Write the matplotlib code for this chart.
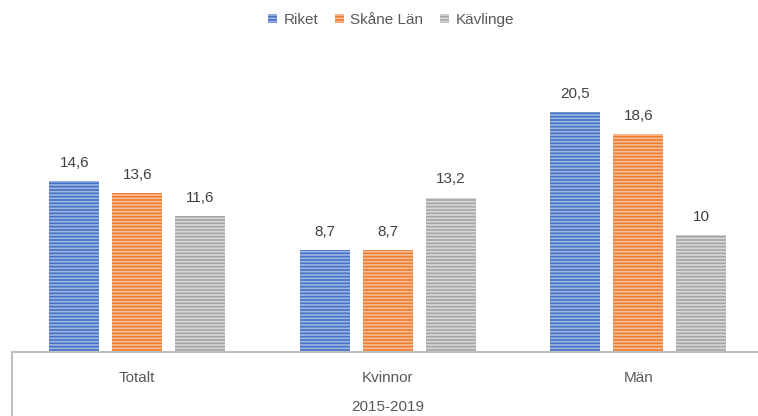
import matplotlib
matplotlib.use("Agg")
import matplotlib.pyplot as plt
import numpy as np

plt.rcParams["font.family"] = ["Liberation Sans", "DejaVu Sans"]
plt.rcParams["hatch.linewidth"] = 1.2

categories = ["Totalt", "Kvinnor", "Män"]
group_label = "2015-2019"
series = ["Riket", "Skåne Län", "Kävlinge"]
riket = [14.6, 8.7, 20.5]
skane = [13.6, 8.7, 18.6]
kavlinge = [11.6, 13.2, 10]
value_labels = [["14,6", "8,7", "20,5"], ["13,6", "8,7", "18,6"], ["11,6", "13,2", "10"]]

FACE = ["#4472C4", "#ED7D31", "#A5A5A5"]
STRIPE = ["#9DB5E2", "#F7BD95", "#D6D6D6"]
TEXT = "#404040"
LABEL = "#595959"
AXIS = "#BFBFBF"

fig = plt.figure(figsize=(7.58, 4.16), dpi=100)
ax = fig.add_axes([12 / 758, 64 / 416, 751.5 / 758, 300 / 416])

x = np.arange(len(categories))
width = 0.2
step = 0.2515
for k, vals in enumerate([riket, skane, kavlinge]):
    bars = ax.bar(x + (k - 1) * step, vals, width, color=FACE[k], edgecolor=STRIPE[k],
                  lw=0, hatch="-----", label=series[k], zorder=2)
    for b, lab in zip(bars, value_labels[k]):
        ax.annotate(lab, (b.get_x() + b.get_width() / 2, b.get_height()),
                    xytext=(0, 8), textcoords="offset points", ha="center", va="bottom",
                    fontsize=11, color=TEXT)

ax.set_xlim(-0.5, 2.5)
ax.set_ylim(0, 300 / 11.7)
for s in ["top", "right", "left"]:
    ax.spines[s].set_visible(False)
ax.spines["bottom"].set_color(AXIS)
ax.spines["bottom"].set_linewidth(1.5)
ax.set_yticks([])
ax.set_xticks(x)
ax.set_xticklabels(categories, fontsize=11, color=LABEL)
ax.tick_params(axis="x", length=0, pad=14)

# multi-level category axis: left divider and group label
fig.add_artist(plt.Line2D([12 / 758, 12 / 758], [0, 64 / 416], color=AXIS, lw=1.5))
fig.text(388 / 758, 1 - 407 / 416, group_label, ha="center", va="center",
         fontsize=11, color=LABEL)

leg = fig.legend(loc="center", bbox_to_anchor=(391 / 758, 1 - 20 / 416), ncol=3,
                 frameon=False, fontsize=11, handlelength=0.6, handleheight=0.6,
                 handletextpad=0.4, columnspacing=1.1)
for t in leg.get_texts():
    t.set_color(LABEL)

fig.savefig("out.png", dpi=100)
